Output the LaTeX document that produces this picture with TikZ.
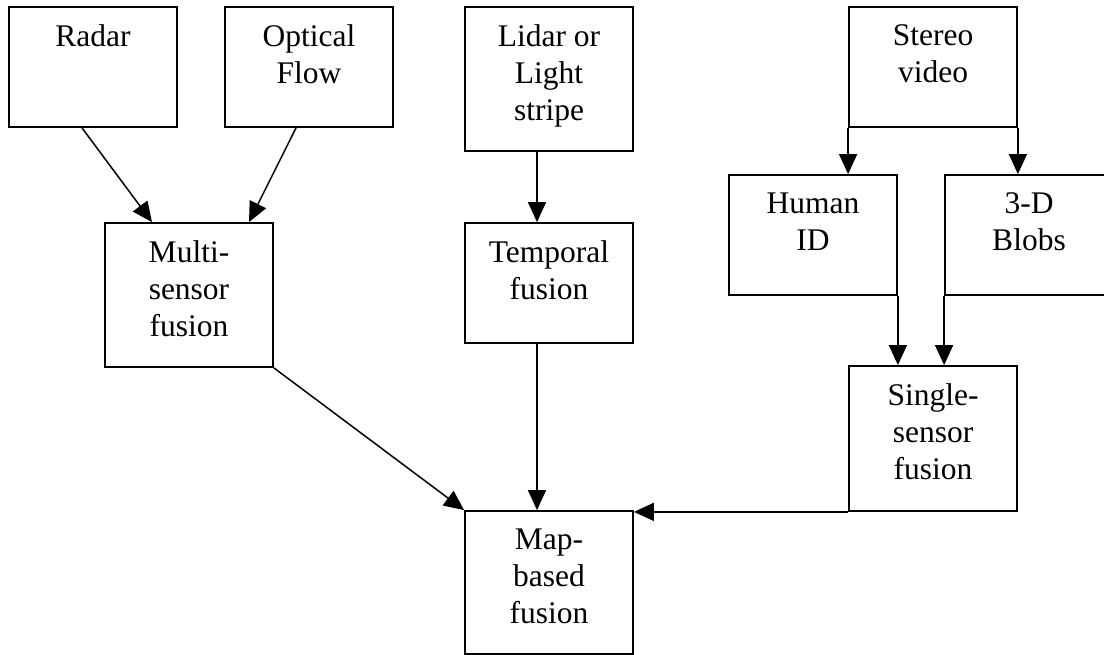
\documentclass[tikz,border=0pt]{standalone}
\usepackage{fontspec}
\setmainfont{Liberation Serif}
\usetikzlibrary{arrows.meta}
\begin{document}
\begin{tikzpicture}[x=1pt,y=-1pt,
  box/.style={draw, line width=1.8pt, inner sep=0pt, minimum width=168pt},
  lbl/.style={align=center, anchor=north, inner sep=0pt, font=\fontsize{31.5}{37}\selectfont},
  conn/.style={line width=1.5pt, -{Triangle[length=20pt,width=18pt]}}]
\useasboundingbox[fill=white] (0,0) rectangle (1104,655);
% boxes
\node[box, minimum height=120pt] (radar)    at (93,67)    {};
\node[box, minimum height=120pt] (optical)  at (309,67)   {};
\node[box, minimum height=144pt] (lidar)    at (549,79)   {};
\node[box, minimum height=120pt] (stereo)   at (933,67)   {};
\node[box, minimum height=120pt] (human)    at (813,235)  {};
\node[box, minimum height=120pt] (blobs)    at (1029,235) {};
\node[box, minimum height=144pt] (multi)    at (189,295)  {};
\node[box, minimum height=120pt] (temporal) at (549,283)  {};
\node[box, minimum height=145pt] (single)   at (933,438.5){};
\node[box, minimum height=143pt] (map)      at (549,582.5){};
% labels
\node[lbl] (radarT)    at ([yshift=-18.5pt]radar.north)    {Radar};
\node[lbl] (opticalT)  at ([yshift=-18.5pt]optical.north)  {Optical\\Flow};
\node[lbl] (lidarT)    at ([yshift=-18.5pt]lidar.north)    {Lidar or\\Light\\stripe};
\node[lbl] (stereoT)   at ([yshift=-18.5pt]stereo.north)   {Stereo\\video};
\node[lbl] (humanT)    at ([yshift=-18.5pt]human.north)    {Human\\ID};
\node[lbl] (blobsT)    at ([yshift=-18.5pt]blobs.north)    {3-D\\Blobs};
\node[lbl] (multiT)    at ([yshift=-18.5pt]multi.north)    {Multi-\\sensor\\fusion};
\node[lbl] (temporalT) at ([yshift=-18.5pt]temporal.north) {Temporal\\fusion};
\node[lbl] (singleT)   at ([yshift=-18.5pt]single.north)   {Single-\\sensor\\fusion};
\node[lbl] (mapT)      at ([yshift=-18.5pt]map.north)      {Map-\\based\\fusion};
% connectors
\draw[conn] ([xshift=-11pt]radar.south) -- ([xshift=-37pt]multi.north);
\draw[conn] ([xshift=-13pt]optical.south) -- ([xshift=60pt]multi.north);
\draw[conn] ([xshift=-12pt]lidar.south) -- ([xshift=-12pt]temporal.north);
\draw[conn] ([xshift=-12pt]temporal.south) -- ([xshift=-12pt]map.north);
\draw[conn] (multi.south east) -- (map.north west);
\draw[conn] (stereo.south west) -- (stereo.south west |- human.north);
\draw[conn] (stereo.south east) -- (stereo.south east |- blobs.north);
\draw[conn] (human.south east) -- (human.south east |- single.north);
\draw[conn] (blobs.south west) -- (blobs.south west |- single.north);
\draw[conn] (single.south west) -- (single.south west -| map.north east);
\end{tikzpicture}
\end{document}
